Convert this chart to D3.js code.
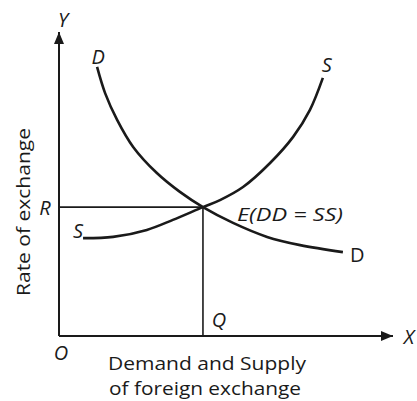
<!DOCTYPE html>
<html>
<head>
<meta charset="utf-8">
<script src="https://cdn.jsdelivr.net/npm/d3@7"></script>
<style>
  body { margin: 0; background: #fff; }
  svg text { font-family: "Open Sans", "Noto Sans", sans-serif; fill: #1a1a1a; }
</style>
</head>
<body>
<div id="chart"></div>
<script>
// demand curve DD (quantity, rate)
const demandX = [1.14, 1.38, 1.74, 2.22, 2.93, 3.62, 4.31, 5.21, 6.23, 7.22, 8.50];
const demandY = [8.85, 7.99, 7.11, 6.22, 5.36, 4.74, 4.24, 3.72, 3.26, 2.99, 2.76];
// supply curve SS
const supplyX = [0.72, 1.62, 2.63, 3.41, 4.31, 4.82, 5.51, 6.32, 7.01, 7.51, 7.90];
const supplyY = [3.22, 3.26, 3.49, 3.82, 4.24, 4.47, 4.90, 5.69, 6.55, 7.43, 8.49];
// equilibrium E
const eqX = 4.31;
const eqY = 4.24;
const axisTitles = ['Rate of exchange', 'Demand and Supply', 'of foreign exchange'];

const width = 417;
const height = 401;

const svg = d3.select('#chart')
  .append('svg')
  .attr('width', width)
  .attr('height', height);

const x = d3.scaleLinear().domain([0, 10]).range([59, 393]);
const y = d3.scaleLinear().domain([0, 10]).range([336, 32]);

const ink = '#1a1a1a';

// arrow heads
const defs = svg.append('defs');
defs.append('marker')
  .attr('id', 'arrow')
  .attr('viewBox', '0 0 12 10')
  .attr('refX', 12)
  .attr('refY', 5)
  .attr('markerWidth', 12)
  .attr('markerHeight', 10)
  .attr('markerUnits', 'userSpaceOnUse')
  .attr('orient', 'auto')
  .append('path')
  .attr('d', 'M0,0 L12,5 L0,10 Z')
  .attr('fill', ink);

// axes
svg.append('line')
  .attr('x1', x(0)).attr('y1', y(0))
  .attr('x2', x(0)).attr('y2', y(10))
  .attr('stroke', ink).attr('stroke-width', 2)
  .attr('marker-end', 'url(#arrow)');

svg.append('line')
  .attr('x1', x(0)).attr('y1', y(0))
  .attr('x2', x(10)).attr('y2', y(0))
  .attr('stroke', ink).attr('stroke-width', 2)
  .attr('marker-end', 'url(#arrow)');

// R and Q guide lines
svg.append('line')
  .attr('x1', x(0)).attr('y1', y(eqY))
  .attr('x2', x(eqX)).attr('y2', y(eqY))
  .attr('stroke', ink).attr('stroke-width', 1.6);

svg.append('line')
  .attr('x1', x(eqX)).attr('y1', y(eqY))
  .attr('x2', x(eqX)).attr('y2', y(0))
  .attr('stroke', ink).attr('stroke-width', 1.6);

// curves
const line = d3.line()
  .x((d) => x(d[0]))
  .y((d) => y(d[1]))
  .curve(d3.curveCatmullRom);

const demand = demandX.map((v, i) => [v, demandY[i]]);
const supply = supplyX.map((v, i) => [v, supplyY[i]]);

svg.append('path')
  .datum(demand)
  .attr('fill', 'none')
  .attr('stroke', ink)
  .attr('stroke-width', 2.6)
  .attr('d', line);

svg.append('path')
  .datum(supply)
  .attr('fill', 'none')
  .attr('stroke', ink)
  .attr('stroke-width', 2.6)
  .attr('d', line);

// labels
function label(text, px, py, italic, anchor) {
  svg.append('text')
    .attr('x', px)
    .attr('y', py)
    .attr('text-anchor', anchor || 'middle')
    .attr('dominant-baseline', 'central')
    .attr('font-size', 20)
    .attr('font-style', italic ? 'italic' : 'normal')
    .text(text);
}

const dStart = demand[0];
const dEnd = demand[demand.length - 1];
const sStart = supply[0];
const sEnd = supply[supply.length - 1];

label('Y', x(0) + 4, y(10) - 13, true);
label('X', x(10) + 16, y(0), true);
label('O', x(0) + 2, y(0) + 16, true);
label('D', x(dStart[0]) + 1, y(dStart[1]) - 10, true);
label('S', x(sEnd[0]) + 4, y(sEnd[1]) - 13, true);
label('S', x(sStart[0]) - 5, y(sStart[1]) - 8, true);
label('D', x(dEnd[0]) + 7, y(dEnd[1]) + 2, false, 'start');
label('R', x(0) - 14, y(eqY), true);
label('Q', x(eqX) + 16, y(0) - 17, true);

svg.append('text')
  .attr('x', x(eqX) + 34)
  .attr('y', y(eqY) + 7)
  .attr('dominant-baseline', 'central')
  .attr('font-size', 19)
  .attr('font-style', 'italic')
  .attr('textLength', 106)
  .attr('lengthAdjust', 'spacingAndGlyphs')
  .text('E(DD = SS)');

// axis titles
function title(text, tx, ty, len, rotate) {
  svg.append('text')
    .attr('transform', `translate(${tx}, ${ty})` + (rotate ? ' rotate(-90)' : ''))
    .attr('text-anchor', 'middle')
    .attr('dominant-baseline', 'central')
    .attr('font-size', 18.5)
    .attr('textLength', len)
    .attr('lengthAdjust', 'spacingAndGlyphs')
    .text(text);
}

title(axisTitles[0], 22, 212, 168, true);
title(axisTitles[1], 207, 362, 198, false);
title(axisTitles[2], 205, 387, 192, false);
</script>
</body>
</html>
